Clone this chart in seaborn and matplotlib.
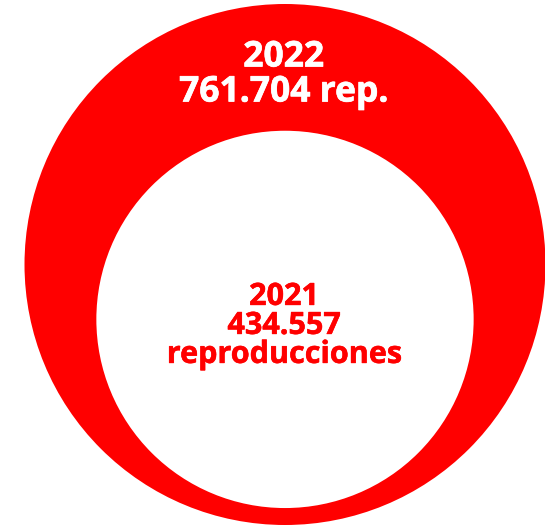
import numpy as np
import pandas as pd
import matplotlib.pyplot as plt
import matplotlib.patheffects as pe
import seaborn as sns

# 数据
years = ['2022', '2021']
values = [761704, 434557]
labels_top = ['2022', '761.704 rep.']
labels_inner = ['2021', '434.557', 'reproducciones']

sns.set_theme(style='white')
plt.rcParams['font.family'] = ['Open Sans', 'DejaVu Sans']

W, H, DPI = 545, 529, 100
RED = '#ff0000'

# 圆的几何（像素坐标）
R_OUT = 260.5
cx = 285
bottom = 525
r = [R_OUT * (v / max(values)) ** 0.575 for v in values]
cy = [bottom - r[0], bottom - r[1] - 0.236 * (r[0] - r[1])]

# scatter 的 s 单位是 pt^2，直径 = sqrt(s)
s = [(2 * ri * 72 / DPI) ** 2 for ri in r]

df = pd.DataFrame({'year': years, 'value': values, 'x': [cx, cx], 'y': cy})

fig = plt.figure(figsize=(W / DPI, H / DPI), dpi=DPI)
ax = fig.add_axes([0, 0, 1, 1])
sns.scatterplot(data=df, x='x', y='y', size='value', sizes=(min(s), max(s)),
                hue='year', palette=[RED, 'white'], linewidth=0, legend=False, ax=ax)
ax.set_xlim(0, W)
ax.set_ylim(H, 0)
ax.axis('off')

# 文字（加一点描边让字更粗）
for i, t in enumerate(labels_top):
    ax.text(cx - 1.5, cy[0] - R_OUT + 62.5 + 35 * i, t, color='white', fontsize=25.5,
            fontweight='bold', ha='center', va='baseline',
            path_effects=[pe.withStroke(linewidth=0.5, foreground='white')])
for i, t in enumerate(labels_inner):
    ax.text(cx - 1, cy[1] - 14.5 + 29 * i, t, color=RED, fontsize=22,
            fontweight='bold', ha='center', va='baseline',
            path_effects=[pe.withStroke(linewidth=0.4, foreground=RED)])

plt.savefig('out.png', dpi=DPI)
